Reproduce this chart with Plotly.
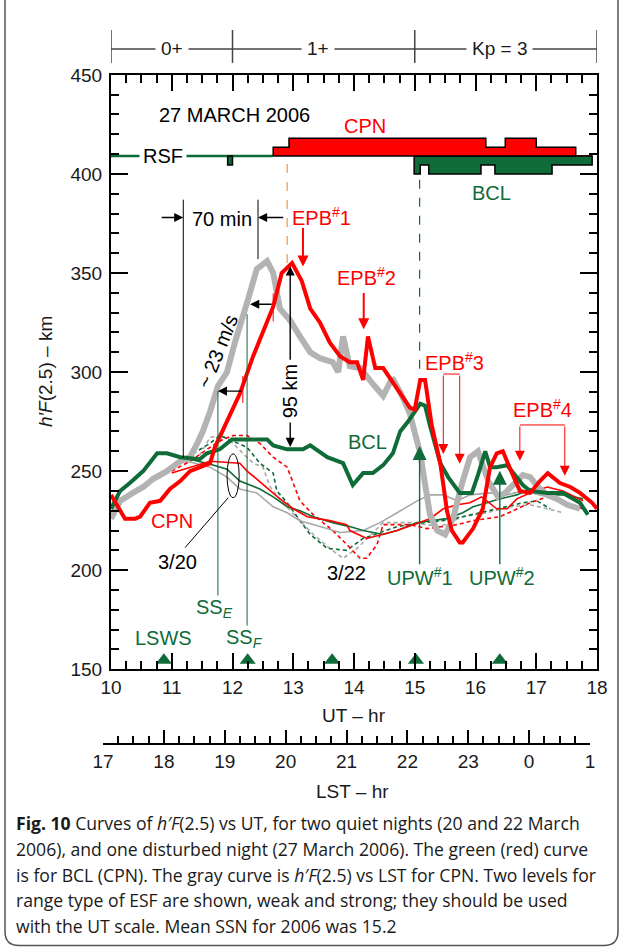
import plotly.graph_objects as go

RED = "#ff0000"
GREEN = "#0f6b37"
GRAY = "#b3b3b3"
GRAY_THIN = "#a8a8a8"
FONT = "Liberation Sans, Arial, sans-serif"
CAP_FONT = "Open Sans, Noto Sans, sans-serif"

# ---------------- h'F(2.5) [km] vs UT [hr] ----------------
# 27 March 2006 (disturbed night)
cpn27_ut = [10.0, 10.23, 10.40, 10.48, 10.64, 10.81, 10.97, 11.14, 11.30, 11.46, 11.63, 11.71, 11.88,
            12.12, 12.34, 12.53, 12.67, 12.81, 12.98, 13.14, 13.28, 13.44, 13.60, 13.77, 13.93, 14.05,
            14.15, 14.23, 14.35, 14.48, 14.92, 15.00, 15.09, 15.17, 15.28, 15.42, 15.53, 15.61, 15.74,
            15.79, 15.96, 16.12, 16.24, 16.35, 16.45, 16.60, 16.73, 16.90, 17.06, 17.19, 17.39, 17.56,
            17.72, 17.92, 18.0]
cpn27_h = [238, 226, 226, 227, 234, 235, 241, 245, 250, 252, 254, 262, 273,
           289, 308, 322, 333, 350, 355, 346, 332, 325, 315, 308, 305, 305,
           296, 318, 302, 302, 282, 281, 296, 296, 273, 254, 230, 220, 214,
           214, 221, 231, 252, 259, 260, 249, 240, 239, 245, 249, 244, 242,
           239, 234, 231]

bcl27_ut = [10.0, 10.15, 10.31, 10.53, 10.76, 10.92, 11.14, 11.46, 11.58, 11.79, 11.99, 12.57, 12.67,
            12.90, 13.16, 13.28, 13.56, 13.82, 13.98, 14.15, 14.31, 14.48, 14.64, 14.76, 14.89, 15.09,
            15.17, 15.25, 15.42, 15.55, 15.74, 15.94, 16.04, 16.16, 16.24, 16.35, 16.52, 16.62, 16.78,
            16.90, 17.18, 17.44, 17.72, 17.85]
bcl27_h = [231, 240, 244, 250, 259, 259, 257, 256, 259, 261, 266, 266, 263,
           261, 261, 263, 257, 254, 243, 249, 249, 253, 259, 270, 275, 284,
           283, 273, 254, 247, 239, 239, 248, 260, 252, 252, 253, 249, 243,
           240, 239, 239, 234, 228]

# CPN 27 March plotted against local time
lst27_ut = [10.0, 10.15, 10.36, 10.53, 10.69, 10.92, 11.14, 11.30, 11.42, 11.51, 11.63, 11.76, 11.91,
            12.04, 12.24, 12.40, 12.57, 12.67, 12.78, 12.95, 13.11, 13.28, 13.44, 13.65, 13.74, 13.82,
            13.93, 14.10, 14.31, 14.48, 14.63, 14.79, 14.92, 15.09, 15.25, 15.37, 15.50, 15.63, 15.78,
            15.91, 16.04, 16.21, 16.37, 16.49, 16.65, 16.78, 16.90, 17.03, 17.18, 17.34, 17.51, 17.72]
lst27_h = [226, 235, 239, 242, 246, 250, 255, 257, 264, 270, 280, 293, 300,
           315, 335, 352, 356, 350, 332, 326, 318, 310, 307, 305, 300, 318,
           303, 302, 294, 288, 297, 288, 279, 259, 228, 220, 218, 226, 244,
           257, 260, 245, 237, 239, 244, 248, 247, 242, 238, 236, 233, 231]

# 20 March 2006 (quiet night, solid)
cpn20_ut = [11.0, 11.30, 11.63, 12.12, 12.24, 12.40, 12.62, 12.78, 13.00, 13.23, 13.60, 13.88, 13.93,
            14.21, 14.71, 14.97, 15.25, 15.47, 15.70, 15.91, 16.10, 16.35, 16.52, 16.68, 16.90, 17.18,
            17.44, 17.77]
cpn20_h = [249, 252, 255, 254, 250, 246, 240, 236, 231, 227, 225, 223, 220,
           216, 220, 223, 226, 231, 233, 234, 237, 231, 231, 236, 239, 242,
           240, 235]
bcl20_ut = [11.14, 11.58, 11.91, 12.12, 12.45, 12.67, 12.90, 13.11, 13.33, 13.65, 13.93, 14.15, 14.48,
            14.71, 15.04, 15.25, 15.53, 15.79, 15.96, 16.19, 16.40, 16.68, 16.90, 17.18, 17.44, 17.77]
bcl20_h = [257, 254, 251, 245, 241, 237, 232, 230, 227, 224, 222, 220, 218,
           220, 224, 225, 226, 229, 232, 234, 236, 238, 241, 238, 238, 236]
lst20_ut = [11.25, 11.63, 11.91, 12.12, 12.40, 12.67, 12.90, 13.11, 13.44, 13.77, 14.15, 14.43, 14.71,
            15.04, 15.25, 15.47, 15.70, 15.91, 16.24, 16.52, 16.78, 17.06, 17.34]
lst20_h = [255, 252, 247, 241, 239, 232, 229, 225, 222, 219, 220, 224, 229,
           235, 238, 238, 235, 238, 239, 238, 240, 238, 236]

# 22 March 2006 (quiet night, dashed)
cpn22_ut = [11.0, 11.30, 11.63, 11.84, 12.01, 12.24, 12.45, 12.67, 12.90, 13.00, 13.11, 13.33, 13.65,
            13.88, 14.10, 14.21, 14.38, 14.48, 14.92, 15.20, 15.70, 15.96, 16.19, 16.40, 16.62, 16.90,
            17.18, 17.44, 17.77]
cpn22_h = [250, 255, 262, 266, 268, 268, 264, 257, 252, 244, 235, 228, 220,
           213, 206, 206, 213, 223, 223, 221, 223, 225, 226, 227, 230, 234,
           237, 234, 231]
bcl22_ut = [11.25, 11.63, 11.79, 12.01, 12.24, 12.45, 12.67, 12.73, 12.90, 13.11, 13.28, 13.56, 13.88,
            14.15, 14.71, 15.14, 15.47, 15.79, 16.07, 16.45, 16.78, 17.01, 17.23]
bcl22_h = [257, 264, 268, 265, 262, 254, 249, 240, 234, 225, 218, 211, 210,
           216, 222, 224, 225, 227, 229, 232, 234, 235, 231]
lst22_ut = [11.46, 11.63, 11.84, 12.01, 12.17, 12.34, 12.50, 12.62, 12.83, 13.11, 13.33, 13.60, 13.82,
            14.05, 14.48, 14.97, 15.42, 15.79, 16.19, 16.57, 16.90, 17.18, 17.44]
lst22_h = [258, 267, 268, 264, 259, 254, 252, 242, 234, 225, 218, 211, 206,
           211, 224, 224, 222, 227, 229, 232, 233, 231, 229]

# ---------------- range spread F (ESF) levels: 1 = weak, 2 = strong ----------------
esf_base = 409
esf_step = 4.5
cpn_esf_edges = [12.67, 12.93, 16.17, 16.49, 17.00, 17.65]
cpn_esf_levels = [1, 2, 1, 2, 1]
bcl_esf_runs = [
    ([11.92, 12.00], [1]),
    ([14.99, 15.09, 15.23, 16.09, 16.32, 17.26, 17.92], [2, 1, 2, 1, 2, 1]),
]

# ---------------- Kp index ----------------
kp_edges = [10, 12, 15, 18]
kp_labels = ["0+", "1+", "Kp = 3"]
kp_label_ut = [11.0, 13.4, 16.4]

# ---------------- LSWS crests (UT) ----------------
lsws_ut = [10.87, 12.25, 13.64, 15.02, 16.40]

# ---------------- axes ----------------
ut_ticks = list(range(10, 19))
lst_ticks = list(range(17, 26))
lst_labels = ["17", "18", "19", "20", "21", "22", "23", "0", "1"]

# Plot-area geometry (pixels) used for paper-referenced layout items
PL, PT, PW, PH = 103, 20, 494, 740


def fx(px):
    return (px - PL) / PW


def fy(py):
    return (PT + PH - py) / PH


fig = go.Figure()


def add_curve(x, y, color, width, dash=None):
    fig.add_trace(go.Scatter(x=x, y=y, mode="lines",
                             line=dict(color=color, width=width, dash=dash),
                             hoverinfo="skip", showlegend=False))


DASH = "4px,3px"
add_curve(lst22_ut, lst22_h, GRAY_THIN, 1.6, DASH)
add_curve(bcl22_ut, bcl22_h, GREEN, 1.6, DASH)
add_curve(cpn22_ut, cpn22_h, RED, 1.6, DASH)
add_curve(lst20_ut, lst20_h, GRAY_THIN, 1.6)
add_curve(bcl20_ut, bcl20_h, GREEN, 1.6)
add_curve(cpn20_ut, cpn20_h, RED, 1.6)
add_curve(lst27_ut, lst27_h, GRAY, 6)
add_curve(bcl27_ut, bcl27_h, GREEN, 4)
add_curve(cpn27_ut, cpn27_h, RED, 4)


def esf_polygon(edges, levels, sign):
    xs, ys = [edges[0]], [esf_base]
    for i, lv in enumerate(levels):
        yv = esf_base + sign * lv * esf_step
        xs += [edges[i], edges[i + 1]]
        ys += [yv, yv]
    xs += [edges[-1], edges[0]]
    ys += [esf_base, esf_base]
    return xs, ys


# RSF baseline
fig.add_trace(go.Scatter(x=[10, cpn_esf_edges[0]], y=[esf_base, esf_base], mode="lines",
                         line=dict(color=GREEN, width=2.5), hoverinfo="skip", showlegend=False))
fig.add_trace(go.Scatter(x=[cpn_esf_edges[-1], 17.92], y=[esf_base, esf_base], mode="lines",
                         line=dict(color=RED, width=2), hoverinfo="skip", showlegend=False))
for edges, levels in bcl_esf_runs:
    xs, ys = esf_polygon(edges, levels, -1)
    fig.add_trace(go.Scatter(x=xs, y=ys, mode="lines", fill="toself", fillcolor=GREEN,
                             line=dict(color="black", width=1.5), hoverinfo="skip", showlegend=False))
xs, ys = esf_polygon(cpn_esf_edges, cpn_esf_levels, 1)
fig.add_trace(go.Scatter(x=xs, y=ys, mode="lines", fill="toself", fillcolor=RED,
                         line=dict(color="black", width=1.5), hoverinfo="skip", showlegend=False))

# LSWS markers on the UT axis
fig.add_trace(go.Scatter(x=lsws_ut, y=[154.5] * len(lsws_ut), mode="markers",
                         marker=dict(symbol="triangle-up", size=14, color=GREEN),
                         hoverinfo="skip", showlegend=False))

# placeholder trace so the LST axis subplot exists
fig.add_trace(go.Scatter(x=[], y=[], xaxis="x2", yaxis="y2", showlegend=False))

shapes = []
annotations = []


def seg(x0, y0, x1, y1, color, width=1.2, dash=None):
    shapes.append(dict(type="line", xref="x", yref="y", x0=x0, y0=y0, x1=x1, y1=y1,
                       line=dict(color=color, width=width, dash=dash)))


def label(text, x, y, color="black", size=20, **kw):
    annotations.append(dict(text=text, x=x, y=y, xref="x", yref="y", showarrow=False,
                            xanchor="center", yanchor="middle",
                            font=dict(color=color, size=size, family=FONT), **kw))


def arrow(x, y, ax, ay, color="black", width=1.4, size=1.3):
    annotations.append(dict(text="", x=x, y=y, ax=ax, ay=ay, xref="x", yref="y",
                            axref="x", ayref="y", showarrow=True, arrowhead=2,
                            arrowsize=size, arrowwidth=width, arrowcolor=color))


# ESF labels
label("27 MARCH 2006", 12.04, 429.8)
label("CPN", 14.18, 424.3, RED)
label("RSF", 10.86, esf_base, bgcolor="white", borderpad=3)
label("BCL", 16.26, 390.6, GREEN)

# 70 min delay
seg(11.19, 387, 11.19, 256.7, "black", 1)
seg(12.42, 387, 12.42, 357, "black", 1)
arrow(11.19, 378, 10.81, 378)
arrow(12.42, 378, 12.86, 378)
label("70 min", 11.83, 377)

# onset markers
seg(12.90, 405, 12.90, 355, "#f0a050", 1.3, "dash")
seg(15.08, 397, 15.08, 298, GREEN, 1.2, "dash")

# 95 km rise
label("95 km", 12.95, 290.4, textangle=-90)
arrow(12.95, 353.3, 12.95, 305.5)
arrow(12.95, 262.2, 12.95, 275.3)

# westward drift of the layer
label("~ 23 m/s", 11.76, 310.5, textangle=-68)
arrow(12.29, 334.2, 12.67, 334.2)
arrow(11.76, 290.4, 12.17, 290.4)
seg(12.67, 339.7, 12.67, 325.6, RED, 1)
seg(12.17, 298, 12.17, 284.4, RED, 1)

# sunset lines
seg(11.76, 290.4, 11.76, 187.2, GREEN, 1)
seg(12.24, 329.2, 12.24, 172, GREEN, 1)
label("SS<sub><i>E</i></sub>", 11.71, 180.5, GREEN)
label("SS<sub><i>F</i></sub>", 12.19, 165.5, GREEN)
label("LSWS", 10.87, 165.6, GREEN)

# EPB markers
label("EPB<sup>#</sup>1", 13.47, 378.5, RED)
arrow(13.16, 353.3, 13.16, 373.5, RED, 2, 1.1)
label("EPB<sup>#</sup>2", 14.21, 348.3, RED)
arrow(14.16, 321.6, 14.16, 340.7, RED, 2, 1.1)
label("EPB<sup>#</sup>3", 15.66, 305.5, RED)
seg(15.47, 299, 15.74, 299, RED, 1)
arrow(15.47, 258.7, 15.47, 299, RED, 1, 2)
arrow(15.74, 253.7, 15.74, 299, RED, 1, 2)
label("EPB<sup>#</sup>4", 17.11, 281.4, RED)
seg(16.73, 273.3, 17.47, 273.3, RED, 1)
arrow(16.73, 255.2, 16.73, 273.3, RED, 1, 2)
arrow(17.47, 247.6, 17.47, 273.3, RED, 1, 2)

label("BCL", 14.23, 264.7, GREEN)
label("CPN", 11.0, 225, RED)

# quiet-night labels
label("3/20", 11.10, 203.9)
seg(11.22, 211.4, 11.93, 236.6, "black", 1)
shapes.append(dict(type="circle", xref="x", yref="y", x0=11.91, x1=12.11, y0=236.6, y1=258.7,
                   line=dict(color="black", width=1)))
label("3/22", 13.87, 198.8)

# upwelling markers
label("UPW<sup>#</sup>1", 15.09, 196.8, GREEN)
arrow(15.08, 262.7, 15.08, 202.3, GREEN, 1.4, 2)
label("UPW<sup>#</sup>2", 16.44, 196.8, GREEN)
arrow(16.40, 250.2, 16.40, 202.3, GREEN, 1.4, 2)

TXT = dict(size=19, family=FONT, color="#1a1a1a")

# Kp bar above the panel
kp_y = fy(47)
shapes.append(dict(type="line", xref="x", yref="paper", x0=kp_edges[0], x1=kp_edges[-1],
                   y0=kp_y, y1=kp_y, line=dict(color="#444", width=1.5)))
for e in kp_edges:
    shapes.append(dict(type="line", xref="x", yref="paper", x0=e, x1=e, y0=fy(28), y1=fy(61),
                       line=dict(color="#444", width=1.5)))
for t, xv in zip(kp_labels, kp_label_ut):
    annotations.append(dict(text=t, x=xv, y=kp_y, xref="x", yref="paper", showarrow=False,
                            xanchor="center", yanchor="middle",
                            bgcolor="white", borderpad=5, font=TXT))

# axis titles
annotations.append(dict(text="<i>h′F</i>(2.5) – km", x=fx(45), y=fy(371), xref="paper", yref="paper",
                        xanchor="center", yanchor="middle", textangle=-90, showarrow=False, font=TXT))
annotations.append(dict(text="UT – hr", x=14.0, y=fy(715), xref="x", yref="paper",
                        xanchor="center", yanchor="middle", showarrow=False, font=TXT))
annotations.append(dict(text="LST – hr", x=fx(352), y=fy(792), xref="paper", yref="paper",
                        xanchor="center", yanchor="middle", showarrow=False, font=TXT))

# caption
cap_lines = [
    "<b>Fig. 10</b> Curves of <i>h′F</i>(2.5) vs UT, for two quiet nights (20 and 22 March",
    "2006), and one disturbed night (27 March 2006). The green (red) curve",
    "is for BCL (CPN). The gray curve is <i>h′F</i>(2.5) vs LST for CPN. Two levels for",
    "range type of ESF are shown, weak and strong; they should be used",
    "with the UT scale. Mean SSN for 2006 was 15.2",
]
cap_y = [823, 849, 875, 900, 926]
for t, py in zip(cap_lines, cap_y):
    annotations.append(dict(text=t, x=fx(14), y=fy(py), xref="paper", yref="paper",
                            xanchor="left", yanchor="middle", showarrow=False,
                            font=dict(size=17.6, family=CAP_FONT, color="#1a1a1a")))

# outer frame with rounded lower corners
L, R, B, T = fx(5), fx(618), fy(946), fy(-5)
rx, ry = 14 / PW, 14 / PH
shapes.append(dict(type="path", xref="paper", yref="paper",
                   path=f"M {L},{T} L {L},{B + ry} Q {L},{B} {L + rx},{B} L {R - rx},{B} "
                        f"Q {R},{B} {R},{B + ry} L {R},{T}",
                   line=dict(color="#555", width=1.5)))

axis_common = dict(showline=True, linecolor="black", linewidth=2, showgrid=False, zeroline=False,
                   ticks="inside", tickcolor="black", tickfont=TXT)

fig.update_layout(
    width=621, height=951,
    margin=dict(l=PL, r=621 - PL - PW, t=PT, b=951 - PT - PH),
    paper_bgcolor="white", plot_bgcolor="white", showlegend=False,
    font=dict(family=FONT, size=19, color="#1a1a1a"),
    xaxis=dict(domain=[fx(111), 1], range=[10, 18], tickmode="array", tickvals=ut_ticks,
               ticklen=16, tickwidth=2, mirror="allticks", anchor="y",
               minor=dict(tick0=10, dtick=0.25, ticks="inside", ticklen=8, tickwidth=1.5, tickcolor="black"),
               **axis_common),
    yaxis=dict(domain=[fy(669), fy(73)], range=[150, 450], tick0=150, dtick=50,
               ticklen=17, tickwidth=2, mirror="allticks", anchor="x", ticklabelstandoff=3,
               minor=dict(tick0=150, dtick=10, ticks="inside", ticklen=8, tickwidth=1.5, tickcolor="black"),
               **axis_common),
    xaxis2=dict(domain=[0, fx(590)], range=[17, 25], tickmode="array", tickvals=lst_ticks,
                ticktext=lst_labels, ticklen=13, tickwidth=2, anchor="y2", side="bottom",
                minor=dict(tick0=17, dtick=0.25, ticks="inside", ticklen=7, tickwidth=1.5, tickcolor="black"),
                **axis_common),
    yaxis2=dict(domain=[fy(743), fy(733)], range=[0, 1], visible=False, anchor="x2"),
    shapes=shapes,
    annotations=annotations,
)

fig.write_html("out.html")
